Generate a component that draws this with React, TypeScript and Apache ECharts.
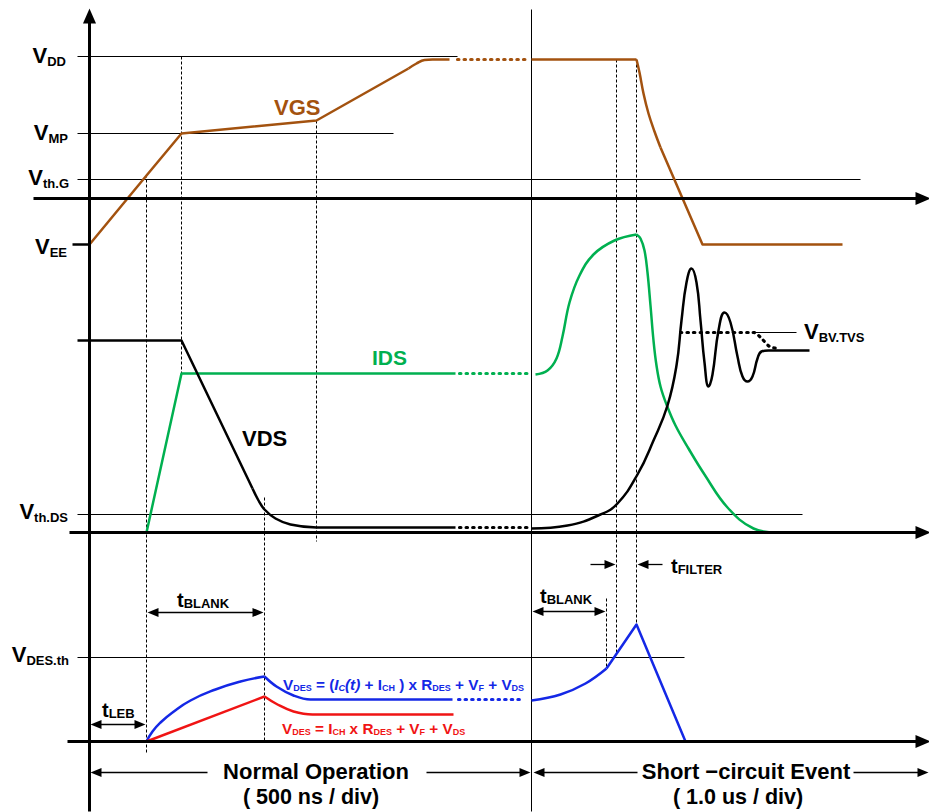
import React, { useEffect, useRef } from "react";
import * as echarts from "echarts";

const FONT = "'Liberation Sans', Arial, Helvetica, sans-serif";
const BROWN = "#a3520f";
const GREEN = "#00b050";
const BLUE = "#1428e6";
const RED = "#f01414";
const BLACK = "#000000";

// ---- VGS (gate voltage) ----
const vgsNormal = [[89, 244], [146, 175], [181, 133], [316, 120], [408, 68]];
const vgsNormalKnee = [[408, 68], [416, 63], [424, 59.5], [432, 59], [449, 59]];
const vgsBreak = [[457, 59], [529, 59]];
const vgsShortFlat = [[531, 59], [636, 59]];
const vgsShortFallCurve = [[636, 59], [639, 72], [643, 93], [648, 113], [654, 131], [660, 147]];
const vgsShortFall = [[660, 147], [702, 244], [842, 244]];

// ---- IDS (drain current) ----
const idsNormal = [[146, 532], [181, 373], [455, 373]];
const idsBreak = [[459, 373], [527, 373]];
const idsShortRise = [[535, 374], [547, 370], [556, 358], [562, 336], [569, 302], [579, 275], [593, 254], [614, 240], [636, 234]];
const idsShortFall = [[636, 234], [640, 238], [644, 250], [647, 272], [650, 305], [653, 340], [656, 365], [660, 386], [666, 404], [675, 425], [688, 448], [704, 474], [727, 507], [753, 528], [777, 532]];

// ---- VDS (drain-source voltage) ----
const vdsNormal = [[77, 340], [181, 340], [252, 488]];
const vdsNormalTail = [[252, 488], [258, 500], [264, 509], [275, 518], [290, 524], [316, 527], [455, 527]];
const vdsBreak = [[459, 527], [527, 527]];
const vdsShort = [[531, 528], [567, 525], [600, 514], [617, 503], [637, 474], [653, 440], [667, 405], [676, 365], [681, 320], [686, 282], [691, 268], [696, 282], [700, 320], [704, 362], [708, 386], [712, 374], [718, 330], [724, 312], [730, 322], [737, 356], [742, 376], [747, 381], [752, 376], [757, 358], [761, 351], [768, 350], [809, 350]];
const vbvClamp = [[680, 332], [753, 332], [762, 339], [769, 346], [778, 348]];
const vbvLevel = [[753, 332], [796, 332]];

// ---- VDES (desat voltage) ----
const vdesBlueRise = [[146, 741], [152, 731], [160, 722], [172, 712], [190, 700], [215, 689], [240, 681], [264, 676]];
const vdesBlueFall = [[264, 676], [276, 686], [293, 695], [310, 699], [452, 699]];
const vdesBlueBreak = [[458, 699], [521, 699]];
const vdesBlueShortRise = [[531, 700], [560, 694], [585, 683], [606, 668]];
const vdesBlueShortSpike = [[606, 668], [636, 624], [685, 741]];
const vdesRedRise = [[146, 741], [264, 696]];
const vdesRedFall = [[264, 696], [277, 704], [293, 711], [312, 714], [453, 714]];

// ---- reference levels (thin guides) ----
const guideLevels = [
  { name: "VDD", y: 56, from: 77, to: 457 },
  { name: "VMP", y: 133, from: 77, to: 393 },
  { name: "Vth.G", y: 179, from: 77, to: 860 },
  { name: "Vth.DS", y: 514, from: 77, to: 802 },
  { name: "VDES.th", y: 657, from: 77, to: 684 },
];
const veeTick = [[72, 244], [89, 244]];
const sectionDivider = [[531, 9], [531, 811]];

// ---- dashed time markers [x, yTop, yBottom] ----
const timeMarkers = [
  [146, 174, 752],
  [181, 56, 373],
  [316, 120, 541],
  [264, 497, 741],
  [606, 598, 668],
  [616, 59, 652],
  [636, 59, 624],
];

// ---- axes [x1, y1, x2(tip), y2(tip)] ----
const axes = [
  [89, 811, 89, 8],
  [33, 198, 930, 198],
  [69, 532, 930, 532],
  [67, 741, 930, 741],
];

// ---- dimension arrows [x1, y1, x2, y2, heads] ----
const dimArrows: [number, number, number, number, string][] = [
  [90, 724, 145, 724, "both"],
  [147, 612, 263, 612, "both"],
  [532, 611, 605, 611, "both"],
  [590, 564, 615, 564, "end"],
  [662, 564, 637, 564, "end"],
  [207, 772, 90, 772, "end"],
  [426, 772, 530, 772, "end"],
  [637, 772, 533, 772, "end"],
  [853, 772, 928, 772, "end"],
];

function sym(main: string, sub: string, x: number, y: number, align: string, o: any = {}) {
  const ms = o.ms ?? 22;
  const ss = o.ss ?? 13;
  const drop = o.drop ?? 6;
  const fill = o.fill ?? BLACK;
  return {
    type: "text",
    x,
    y,
    silent: true,
    style: {
      text: `{m|${main}}{s|${sub}}`,
      align,
      verticalAlign: "middle",
      rich: {
        m: { fontSize: ms, fontWeight: "bold", fontFamily: FONT, lineHeight: ms + 2, fill },
        s: { fontSize: ss, fontWeight: "bold", fontFamily: FONT, lineHeight: 4, padding: [2 * drop, 0, 0, 0], fill },
      },
    },
  };
}

function richText(text: string, x: number, y: number, fill: string, ms: number, ss: number, drop: number) {
  const base = { fontWeight: "bold", fontFamily: FONT, fill };
  return {
    type: "text",
    x,
    y,
    silent: true,
    style: {
      text,
      align: "left",
      verticalAlign: "middle",
      rich: {
        m: { ...base, fontSize: ms, lineHeight: ms + 2 },
        mi: { ...base, fontSize: ms, lineHeight: ms + 2, fontStyle: "italic" },
        s: { ...base, fontSize: ss, lineHeight: 4, padding: [2 * drop, 0, 0, 0] },
        si: { ...base, fontSize: ss, lineHeight: 4, padding: [2 * drop, 0, 0, 0], fontStyle: "italic" },
      },
    },
  };
}

function plain(text: string, x: number, y: number, size: number, fill: string, align = "left") {
  return {
    type: "text",
    x,
    y,
    silent: true,
    style: { text, fontSize: size, fontWeight: "bold", fontFamily: FONT, fill, align, verticalAlign: "middle" },
  };
}

function line(data: number[][], color: string, width: number, extra: any = {}) {
  return {
    type: "line",
    data,
    symbol: "none",
    silent: true,
    animation: false,
    clip: false,
    smooth: extra.smooth ?? false,
    z: extra.z ?? 3,
    lineStyle: { color, width, cap: extra.cap ?? "butt", join: "round", type: extra.type ?? "solid" },
  };
}

const dotted = (data: number[][], color: string) =>
  line(data, color, 3.2, { type: [1.4, 5.2], cap: "round" });

function arrowPair(x1: number, y1: number, x2: number, y2: number, heads: string, w: number, h: number) {
  const len = Math.hypot(x2 - x1, y2 - y1);
  const ux = (x2 - x1) / len;
  const uy = (y2 - y1) / len;
  const startHead = heads === "both";
  const sx = startHead ? x1 + (ux * h) / 2 : x1;
  const sy = startHead ? y1 + (uy * h) / 2 : y1;
  const ex = x2 - (ux * h) / 2;
  const ey = y2 - (uy * h) / 2;
  return [
    { coord: [sx, sy], symbol: startHead ? "triangle" : "none", symbolSize: [w, h] },
    { coord: [ex, ey], symbol: "triangle", symbolSize: [w, h] },
  ];
}

function markerHost(width: number, data: any[]) {
  return {
    type: "line",
    data: [[89, 700], [89, 701]],
    symbol: "none",
    silent: true,
    z: 5,
    lineStyle: { width: 0 },
    markLine: {
      silent: true,
      animation: false,
      symbol: ["none", "none"],
      label: { show: false },
      emphasis: { disabled: true },
      lineStyle: { color: BLACK, width, type: "solid" },
      data,
    },
  };
}

function buildOption() {
  const series: any[] = [];

  guideLevels.forEach((g) => series.push(line([[g.from, g.y], [g.to, g.y]], BLACK, 1, { z: 1 })));
  series.push(line(sectionDivider, BLACK, 1, { z: 1 }));
  series.push(line(vbvLevel, BLACK, 1, { z: 1 }));
  series.push(line(veeTick, BLACK, 2.5, { z: 1 }));
  timeMarkers.forEach((m) => series.push(line([[m[0], m[1]], [m[0], m[2]]], BLACK, 1, { z: 1, type: [3, 2] })));

  // VGS
  series.push(line(vgsNormal, BROWN, 2.5));
  series.push(line(vgsNormalKnee, BROWN, 2.5, { smooth: 0.4 }));
  series.push(dotted(vgsBreak, BROWN));
  series.push(line(vgsShortFlat, BROWN, 2.5));
  series.push(line(vgsShortFallCurve, BROWN, 2.5, { smooth: 0.4 }));
  series.push(line(vgsShortFall, BROWN, 2.5));
  // IDS
  series.push(line(idsNormal, GREEN, 2.5));
  series.push(dotted(idsBreak, GREEN));
  series.push(line(idsShortRise, GREEN, 2.5, { smooth: 0.4 }));
  series.push(line(idsShortFall, GREEN, 2.5, { smooth: 0.4 }));
  // VDS
  series.push(line(vdsNormal, BLACK, 2.5, { z: 4 }));
  series.push(line(vdsNormalTail, BLACK, 2.5, { smooth: 0.4, z: 4 }));
  series.push(dotted(vdsBreak, BLACK));
  series.push(line(vdsShort, BLACK, 2.5, { smooth: 0.45, z: 4 }));
  series.push({ ...dotted(vbvClamp, BLACK), smooth: 0.3 });
  // VDES
  series.push(line(vdesBlueRise, BLUE, 2.5, { smooth: 0.5 }));
  series.push(line(vdesBlueFall, BLUE, 2.5, { smooth: 0.4 }));
  series.push(dotted(vdesBlueBreak, BLUE));
  series.push(line(vdesBlueShortRise, BLUE, 2.5, { smooth: 0.4 }));
  series.push(line(vdesBlueShortSpike, BLUE, 2.5));
  series.push(line(vdesRedRise, RED, 2.5));
  series.push(line(vdesRedFall, RED, 2.5, { smooth: 0.4 }));

  // axes with arrowheads, and dimension arrows
  series.push(markerHost(3, axes.map((a) => arrowPair(a[0], a[1], a[2], a[3], "end", 13, 15))));
  series.push(markerHost(1.3, dimArrows.map((a) => arrowPair(a[0], a[1], a[2], a[3], a[4], 9, 11))));

  const graphics: any[] = [
    sym("V", "DD", 66, 55, "right"),
    sym("V", "MP", 68, 132, "right"),
    sym("V", "th.G", 69, 177, "right"),
    sym("V", "EE", 67, 246, "right"),
    sym("V", "th.DS", 68, 511, "right"),
    sym("V", "DES.th", 69, 654, "right"),
    sym("V", "BV.TVS", 804, 331, "left"),
    plain("VGS", 274, 107, 22, BROWN),
    plain("IDS", 372, 357, 21, GREEN),
    plain("VDS", 242, 438, 22, BLACK),
    sym("t", "BLANK", 177, 600, "left", { ms: 20, ss: 13, drop: 3.5 }),
    sym("t", "LEB", 102, 710, "left", { ms: 20, ss: 13, drop: 3.5 }),
    sym("t", "BLANK", 540, 596, "left", { ms: 20, ss: 13, drop: 3.5 }),
    sym("t", "FILTER", 671, 566, "left", { ms: 20, ss: 13, drop: 3.5 }),
    richText(
      "{m|V}{s|DES}{m| = (}{mi|I}{si|C}{mi|(t)}{m| + I}{s|CH}{m| ) x R}{s|DES}{m| + V}{s|F}{m| + V}{s|DS}",
      283, 684, BLUE, 15.3, 9, 3.6
    ),
    richText(
      "{m|V}{s|DES}{m| = I}{s|CH}{m| x R}{s|DES}{m| + V}{s|F}{m| + V}{s|DS}",
      282, 728, RED, 15.3, 9, 3.6
    ),
    plain("Normal Operation", 316, 771, 22, BLACK, "center"),
    plain("( 500 ns / div)", 311, 797, 21.5, BLACK, "center"),
    plain("Short \u2212circuit Event", 746, 771, 22, BLACK, "center"),
    plain("( 1.0 us / div)", 738, 797, 21.5, BLACK, "center"),
  ];

  return {
    animation: false,
    backgroundColor: "#ffffff",
    grid: { left: 0, right: 0, top: 0, bottom: 0 },
    xAxis: { type: "value", min: -0.5, max: 928.5, show: false },
    yAxis: { type: "value", min: -0.5, max: 811.5, inverse: true, show: false },
    tooltip: { show: false },
    series,
    graphic: graphics,
  };
}

export default function App() {
  const ref = useRef<HTMLDivElement>(null);
  useEffect(() => {
    if (!ref.current) return;
    const chart = echarts.init(ref.current, null, { renderer: "svg" });
    chart.setOption(buildOption() as any);
    return () => chart.dispose();
  }, []);
  return (
    <div
      ref={ref}
      style={{ position: "absolute", left: 0, top: 0, width: 929, height: 812, background: "#fff" }}
    />
  );
}
